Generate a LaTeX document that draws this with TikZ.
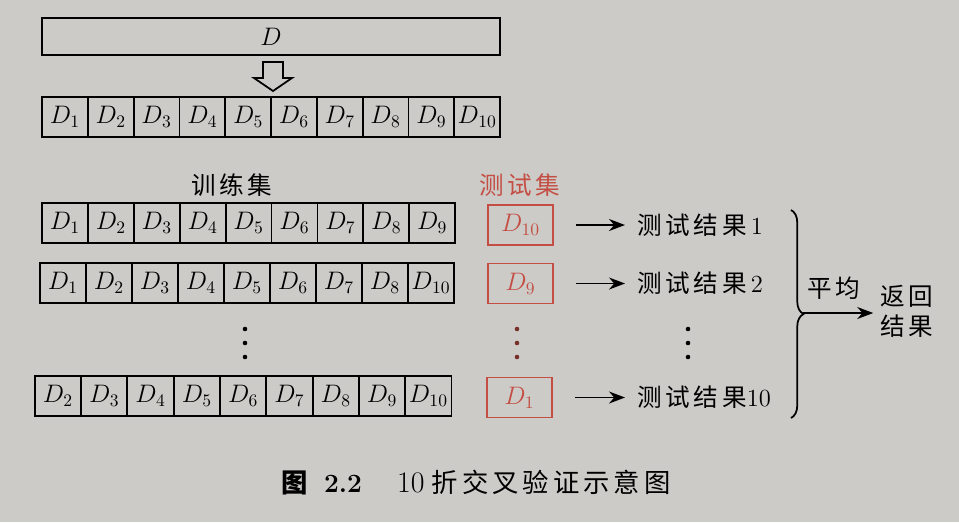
\documentclass[tikz,border=0pt]{standalone}
\usepackage{fontspec}
\usepackage{amsmath}
\usepackage{tikz}
\usetikzlibrary{arrows.meta,decorations.pathreplacing}
\newfontfamily\cjk{Noto Sans CJK SC}[LetterSpace=15]
\definecolor{paper}{RGB}{204,203,200}
\definecolor{testred}{RGB}{196,78,68}

\begin{document}
\begin{tikzpicture}[x=0.02cm,y=-0.02cm]
            \fill[paper] (0,0) rectangle (959,522);
            \useasboundingbox (0,0) rectangle (959,522);

            \begin{scope}[every node/.style={draw,line width=1pt,inner sep=0pt,minimum height=0.8cm,minimum width=0.92cm,font=\fontsize{14}{16}\selectfont}]
                \node (D) [minimum width=9.16cm,minimum height=0.74cm] at (271,36.5) {$D$};
                \foreach \i in {1,...,10}
                    \node (A\i) at ({65+(\i-1)*45.8},117) {$D_{\i}$};
                \foreach \i in {1,...,9}
                    \node (B\i) at ({65+(\i-1)*45.9},223) {$D_{\i}$};
                \foreach \k [count=\i] in {1,2,3,4,5,6,7,8,10}
                    \node (C\i) at ({63+(\i-1)*46},283) {$D_{\k}$};
                \foreach \k [count=\i] in {2,...,10}
                    \node (E\i) at ({58+(\i-1)*46.3},396) {$D_{\k}$};
            \end{scope}

            % hollow arrow between D and its split
            \coordinate (split) at (273,76.5);
            \draw [line width=1pt,shift={(split)}] (-10,-14.5) -- (10,-14.5) -- (10,1.5) -- (19,1.5)
                -- (0,14.5) -- (-19,1.5) -- (-10,1.5) -- cycle;

            \begin{scope}[every node/.style={draw=testred,line width=1pt,text=testred,inner sep=0pt,minimum width=1.3cm,minimum height=0.8cm,font=\fontsize{14}{16}\selectfont}]
                \node (T1) at (520.5,225) {$D_{10}$};
                \node (T2) at (520.5,283.5) {$D_{9}$};
                \node (T3) at (519.5,397.5) {$D_{1}$};
            \end{scope}

            \begin{scope}[every node/.style={inner sep=0pt,font=\cjk\fontsize{14}{17}\selectfont}]
                \node (train) at (232,185) {训练集};
                \node (test) [text=testred] at (520,185) {测试集};
                \node (R1) [anchor=west] at (637,225) {测试结果\,{\rmfamily 1}};
                \node (R2) [anchor=west] at (637,283.5) {测试结果\,{\rmfamily 2}};
                \node (R3) [anchor=west] at (637,397.5) {测试结果{\rmfamily 10}};
                \node (avg) at (834,288) {平均};
                \node (ret) [align=center] at (907,311) {返回\\结果};
            \end{scope}

            % dots
            \foreach \y in {329,343,357} {
                \fill (245,\y) circle (1.3pt);
                \fill[testred!60!black] (517,\y) circle (1.3pt);
                \fill (688,\y) circle (1.3pt);
            }

            \begin{scope}[>={Stealth[length=3.2mm,width=2.4mm]}, line width=1pt]
                \path [draw,->,shorten <=0.44cm,shorten >=0.24cm] (T1) -- (R1);
                \path [draw,->,shorten <=0.44cm,shorten >=0.24cm] (T2) -- (R2);
                \path [draw,->,shorten <=0.44cm,shorten >=0.24cm] (T3) -- (R3);
                \coordinate (bt) at (791,210);
                \coordinate (bb) at (791,418);
                \coordinate (bm) at (803,313);
                \draw [decorate,decoration={brace,amplitude=0.25cm}] (bt) -- (bb);
                \path [draw,->,shorten >=0.14cm] (bm) -- (bm -| ret.west);
            \end{scope}

            \node (cap) [anchor=west,inner sep=0pt,font=\fontsize{15}{17}\selectfont] at (281,483)
                {{\cjk\bfseries 图}\hspace{0.25cm}\textbf{2.2}\hspace{0.7cm}{\fontsize{17}{19}\selectfont 10}\hspace{0.15cm}{\cjk 折交叉验证示意图}};
\end{tikzpicture}
\end{document}
